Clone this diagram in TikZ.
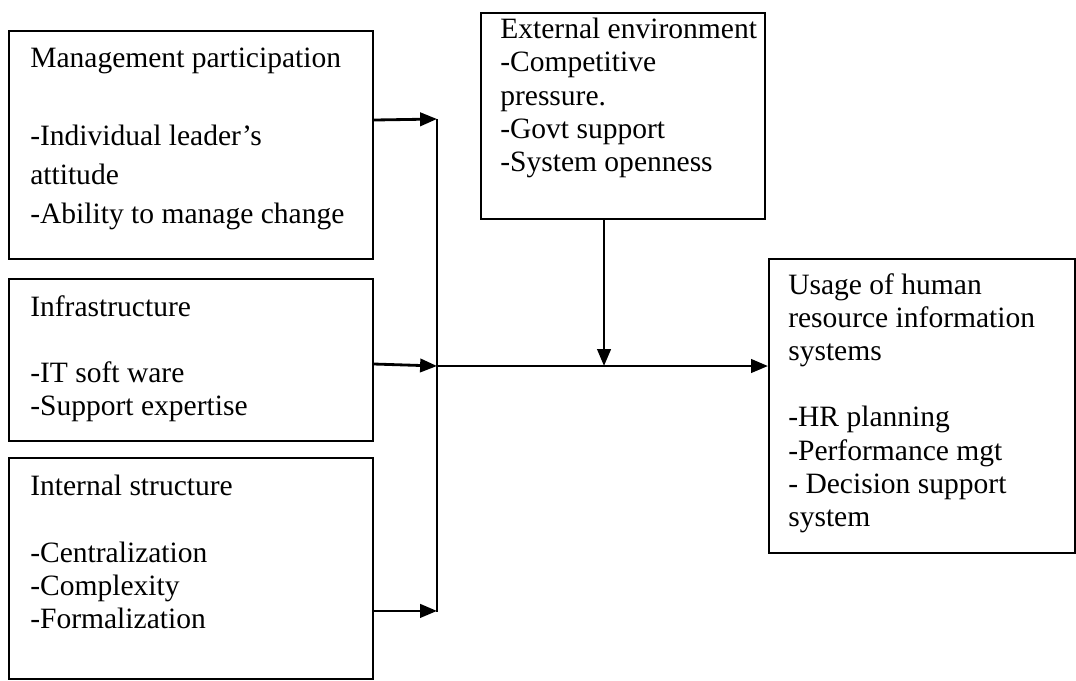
\documentclass[tikz,border=0pt]{standalone}
\usepackage{fontspec}
\setmainfont{Liberation Serif}
\usetikzlibrary{arrows.meta, positioning}
\tikzset{
    factor_box/.style={draw, line width=1.4pt, inner sep=0pt, anchor=north west},
    box_text/.style={align=left, inner sep=0pt, anchor=north west, font=\fontsize{21}{23.6}\selectfont},
    flow_arrow/.style={-{Triangle[length=12pt, width=9.5pt]}, line width=2pt},
    join_line/.style={line width=1.4pt}
}

\begin{document}
\begin{tikzpicture}[x=0.025cm, y=-0.025cm]
    \useasboundingbox (0,0) rectangle (1076,680);
    % === LEFT FACTORS ===
    \node[factor_box, minimum width=9.1cm, minimum height=5.7cm] (mgmt) at (8,30) {};
    \node[box_text, below right=0.45cm and 0.55cm of mgmt.north west, font=\fontsize{21}{27.6}\selectfont] (mgmt_txt)
        {Management participation\\[27.6pt]-Individual leader’s\\attitude\\-Ability to manage change};
    \node[factor_box, minimum width=9.1cm, minimum height=4.05cm] (infra) at (8,278) {};
    \node[box_text, below right=0.425cm and 0.55cm of infra.north west] (infra_txt)
        {Infrastructure\\[23.6pt]-IT soft ware\\-Support expertise};
    \node[factor_box, minimum width=9.1cm, minimum height=5.525cm] (intern) at (8,457) {};
    \node[box_text, below right=0.45cm and 0.55cm of intern.north west] (intern_txt)
        {Internal structure\\[23.6pt]-Centralization\\-Complexity\\-Formalization};
    %
    % === EXTERNAL ENVIRONMENT ===
    \node[factor_box, minimum width=7.1cm, minimum height=5.15cm] (ext) at (480,12) {};
    \node[box_text, below right=0.15cm and 0.5cm of ext.north west] (ext_txt)
        {External environment\\-Competitive\\pressure.\\-Govt support\\-System openness};
    %
    % === OUTCOME ===
    \node[factor_box, minimum width=7.65cm, minimum height=7.35cm] (usage) at (768,258) {};
    \node[box_text, below right=0.375cm and 0.5cm of usage.north west] (usage_txt)
        {Usage of human\\resource information\\systems\\[23.6pt]-HR planning\\-Performance mgt\\- Decision support\\system};
    %
    % Bus and arrows
    \coordinate (mgmt_out) at ([yshift=0.625cm]mgmt.east);
    \coordinate (infra_out) at ([yshift=-0.1cm]infra.east);
    \coordinate (intern_out) at ([yshift=-1.06cm]intern.east);
    \coordinate (bus_top) at (437,119);
    \coordinate (bus_mid) at (437,366);
    \coordinate (bus_bot) at (437,612);
    \coordinate (ext_out) at ([xshift=-0.475cm]ext.south);
    \draw[join_line] (bus_top) -- (bus_bot);
    \draw[flow_arrow] (mgmt_out) -- (bus_top);
    \draw[flow_arrow] (infra_out) -- (bus_mid);
    \draw[flow_arrow] (intern_out) -- (bus_top |- intern_out);
    \draw[flow_arrow] (ext_out) -- (ext_out |- bus_mid);
    \draw[flow_arrow] (bus_mid) -- (bus_mid -| usage.west);
\end{tikzpicture}
\end{document}
